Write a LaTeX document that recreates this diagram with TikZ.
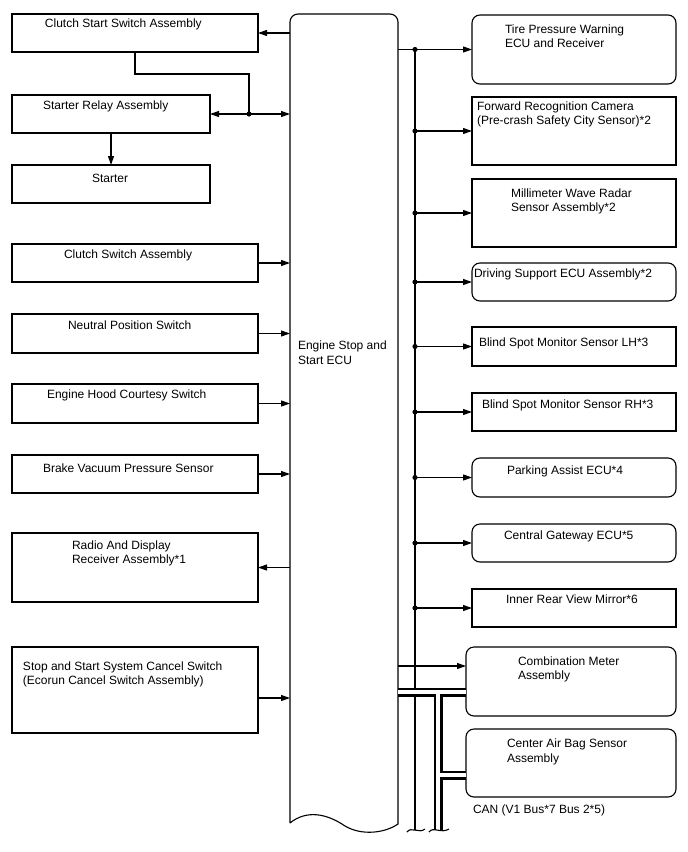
\documentclass[tikz,border=0pt]{standalone}
\usepackage{fontspec}
\setmainfont{Liberation Sans}
\usetikzlibrary{arrows.meta}
\begin{document}
\begin{tikzpicture}[x=1pt,y=-1pt,
  line/.style={line width=1.1pt,draw=black},
  box/.style={line, rectangle, inner sep=0pt, outer sep=0pt, anchor=north west},
  rbox/.style={box, rounded corners=8pt},
  arr/.style={line, -{Triangle[length=9pt,width=6pt]}},
  txt/.style={inner sep=0pt, outer sep=0pt, anchor=north west, align=left, font=\fontsize{12}{14}\selectfont},
  dot/.style={fill=black}
]
\useasboundingbox (0,0) rectangle (688,852);
% left boxes
\node[box, minimum width=246pt, minimum height=38pt] (csa) at (12,14) {};
\node[box, minimum width=198pt, minimum height=38pt] (sra) at (12,95) {};
\node[box, minimum width=198pt, minimum height=38pt] (st) at (12,165) {};
\node[box, minimum width=246pt, minimum height=38pt] (csw) at (12,244) {};
\node[box, minimum width=246pt, minimum height=39pt] (nps) at (12,314) {};
\node[box, minimum width=246pt, minimum height=39pt] (ehc) at (12,384) {};
\node[box, minimum width=246pt, minimum height=38pt] (bvp) at (12,455) {};
\node[box, minimum width=246pt, minimum height=69pt] (rad) at (12,533) {};
\node[box, minimum width=246pt, minimum height=86pt] (sss) at (12,647) {};
% texts left
\node[txt] (tcsa) at (45,19.3) {Clutch Start Switch Assembly};
\node[txt] (tsra) at (43,101.3) {Starter Relay Assembly};
\node[txt] (tst) at (92,174.3) {Starter};
\node[txt] (tcsw) at (64,249.3) {Clutch Switch Assembly};
\node[txt] (tnps) at (68,320.3) {Neutral Position Switch};
\node[txt] (tehc) at (47,389.3) {Engine Hood Courtesy Switch};
\node[txt] (tbvp) at (43,463.3) {Brake Vacuum Pressure Sensor};
\node[txt] (trad) at (72,540.3) {Radio And Display\\Receiver Assembly*1};
\node[txt] (tsss) at (23,661.3) {Stop and Start System Cancel Switch\\(Ecorun Cancel Switch Assembly)};
% ECU
\node[inner sep=0pt, outer sep=0pt, minimum width=108pt, minimum height=809pt, anchor=north west] (ecu) at (290,14) {};
\draw[line] (290,823) -- (290,22) arc[start angle=180, end angle=90, radius=8pt] -- (390,14)
  arc[start angle=90, end angle=0, radius=8pt] -- (398,824)
  .. controls (385,833) and (362,836) .. (345,826)
  .. controls (326,813) and (306,810) .. (290,823);
\node[txt, font=\fontsize{12}{15}\selectfont] (tecu) at (298,340.3) {Engine Stop and\\Start ECU};
% right boxes
\node[rbox, minimum width=204pt, minimum height=69pt] (tire) at (472,15) {};
\node[box, minimum width=204pt, minimum height=68pt] (fwd) at (472,97) {};
\node[box, minimum width=204pt, minimum height=68pt] (mm) at (472,179) {};
\node[rbox, minimum width=204pt, minimum height=38pt] (ds) at (472,263) {};
\node[box, minimum width=204pt, minimum height=39pt] (lh) at (472,327) {};
\node[box, minimum width=204pt, minimum height=38pt] (rh) at (472,393) {};
\node[rbox, minimum width=204pt, minimum height=39pt] (pa) at (472,458) {};
\node[rbox, minimum width=204pt, minimum height=38pt] (cg) at (472,524) {};
\node[box, minimum width=204pt, minimum height=38pt] (irv) at (472,589) {};
\node[rbox, minimum width=210pt, minimum height=69pt] (cm) at (466,647) {};
\node[rbox, minimum width=210pt, minimum height=68pt] (cab) at (466,729) {};
% texts right
\node[txt] (ttire) at (505,25.3) {Tire Pressure Warning\\ECU and Receiver};
\node[txt] (tfwd) at (477,102.3) {Forward Recognition Camera\\(Pre-crash Safety City Sensor)*2};
\node[txt] (tmm) at (511,188.3) {Millimeter Wave Radar\\Sensor Assembly*2};
\node[txt] (tds) at (474,268.3) {Driving Support ECU Assembly*2};
\node[txt] (tlh) at (479,337.3) {Blind Spot Monitor Sensor LH*3};
\node[txt] (trh) at (482,399.3) {Blind Spot Monitor Sensor RH*3};
\node[txt] (tpa) at (507,465.3) {Parking Assist ECU*4};
\node[txt] (tcg) at (504,530.3) {Central Gateway ECU*5};
\node[txt] (tirv) at (506,594.3) {Inner Rear View Mirror*6};
\node[txt] (tcm) at (518,656.3) {Combination Meter\\Assembly};
\node[txt, font=\fontsize{12}{15}\selectfont] (tcab) at (507,738.3) {Center Air Bag Sensor\\Assembly};
\node[txt] (tcan) at (473,804.3) {CAN (V1 Bus*7 Bus 2*5)};
% left connectors
\draw[arr] (csa.east -| ecu.west) -- (csa.east);
\coordinate (j) at (249,114);
\draw[arr] (j) -- (sra.east);
\draw[arr] (j) -- (sra.east -| ecu.west);
\fill[dot] (j) circle (2.6pt);
\draw[line] (csa.south) -- ++(0,22) -| (j);
\draw[arr] (sra.south) -- (st.north);
\draw[arr] (csw.east) -- (csw.east -| ecu.west);
\draw[arr] (nps.east) -- (nps.east -| ecu.west);
\draw[arr] (ehc.east) -- (ehc.east -| ecu.west);
\draw[arr] (bvp.east) -- (bvp.east -| ecu.west);
\draw[arr] (rad.east -| ecu.west) -- (rad.east);
\draw[arr] ([yshift=-8pt]sss.east) -- ([yshift=-8pt]sss.east -| ecu.west);
% bus
\coordinate (bus) at (415,0);
\coordinate (busend) at (415,830);
\draw[arr] (tire.west -| ecu.east) -- (tire.west);
\draw[line] (tire.west -| bus) -- (busend);
\draw[line] (407,832) .. controls (411,826) and (419,834) .. (425,829);
\foreach \n in {tire,fwd,mm,ds,lh,rh,pa,cg,irv}{
  \fill[dot] (\n.west -| bus) circle (2.6pt);
}
\foreach \n in {fwd,mm,ds,lh,rh,pa,cg,irv}{
  \draw[arr] (\n.west -| bus) -- (\n.west);
}
\draw[arr] ([yshift=15.5pt]cm.west -| ecu.east) -- ([yshift=15.5pt]cm.west);
% CAN
\coordinate (canv) at (438,692);
\coordinate (canend) at (438,830);
\foreach \w/\c in {9pt/black,3.6pt/white}{
  \draw[line width=\w, draw=\c] ([yshift=-10.5pt]cm.west -| ecu.east) -- ([yshift=-10.5pt]cm.west);
  \draw[line width=\w, draw=\c] (canv) -- (canend);
  \draw[line width=\w, draw=\c] ([yshift=-12pt]cab.west -| canv) -- ([yshift=-12pt]cab.west);
}
\draw[line] (429,832) .. controls (433,826) and (441,834) .. (449,829);
\end{tikzpicture}
\end{document}
